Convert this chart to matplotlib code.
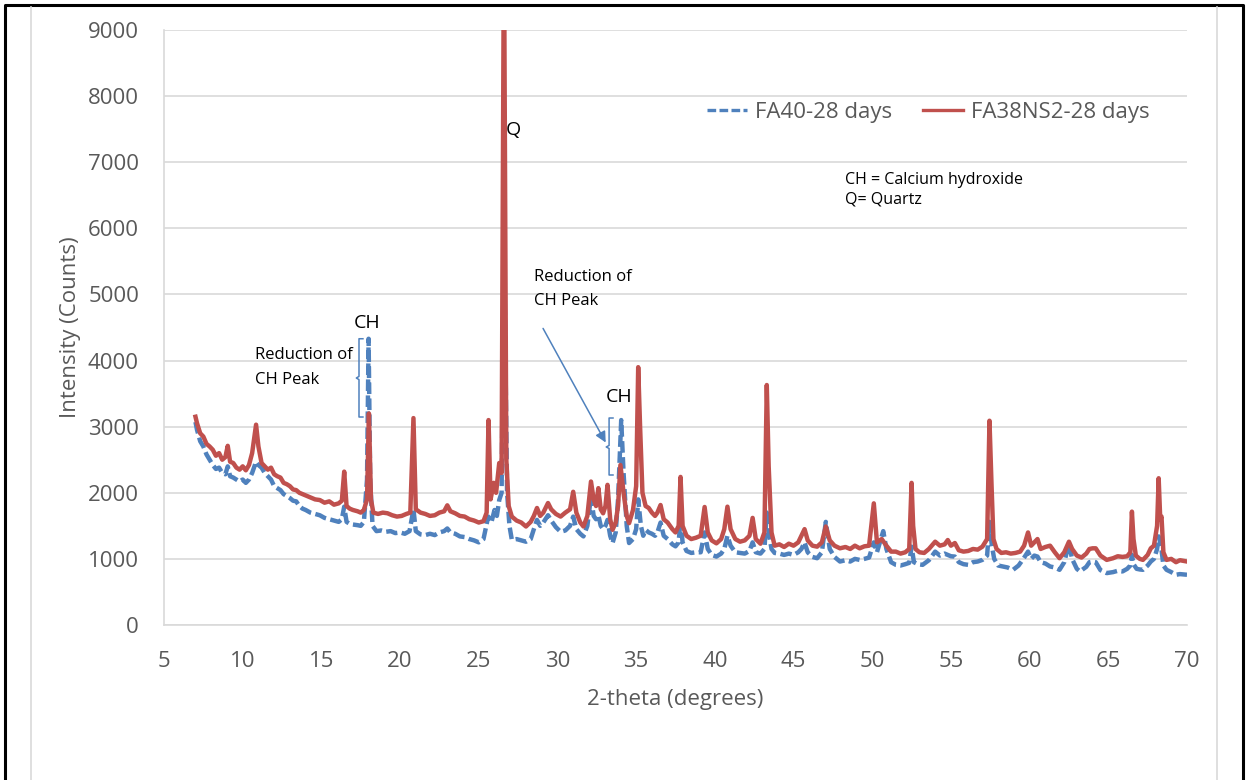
import numpy as np
import matplotlib
matplotlib.use("Agg")
import matplotlib.pyplot as plt
from matplotlib.lines import Line2D

plt.rcParams.update({
    "font.family": ["Open Sans", "DejaVu Sans"],
    "font.size": 16,
})

# FA40-28 days pattern (2-theta, counts)
fa40_x = [7.0, 7.1, 7.3, 7.5, 7.7, 7.9, 8.1, 8.3, 8.5, 8.7, 8.9, 9.05, 9.2, 9.4, 9.6, 9.8,
          10.0, 10.2, 10.4, 10.6, 10.85, 11.0, 11.2, 11.4, 11.6, 11.8, 12.0, 12.2, 12.4, 12.6,
          12.8, 13.0, 13.2, 13.4, 13.6, 13.8, 14.0, 14.3, 14.6, 14.9, 15.2, 15.5, 15.8, 16.1,
          16.3, 16.45, 16.6, 16.8, 17.0, 17.3, 17.5, 17.7, 17.9, 18.0, 18.1, 18.25, 18.5, 18.8,
          19.1, 19.4, 19.7, 20.0, 20.3, 20.6, 20.85, 21.0, 21.3, 21.6, 21.9, 22.2, 22.5, 22.8,
          23.0, 23.2, 23.5, 23.8, 24.1, 24.4, 24.7, 25.0, 25.3, 25.6, 25.8, 26.0, 26.15, 26.3,
          26.45, 26.6, 26.8, 26.95, 27.1, 27.4, 27.7, 28.0, 28.3, 28.5, 28.7, 28.9, 29.1, 29.4,
          29.6, 29.9, 30.2, 30.5, 30.8, 31.0, 31.2, 31.45, 31.65, 31.9, 32.13, 32.3, 32.45, 32.6,
          32.75, 32.9, 33.05, 33.18, 33.35, 33.5, 33.7, 33.85, 34.05, 34.2, 34.4, 34.55, 34.8,
          35.0, 35.13, 35.3, 35.45, 35.6, 35.8, 36.0, 36.2, 36.35, 36.55, 36.75, 37.0, 37.3,
          37.5, 37.7, 37.82, 37.95, 38.2, 38.5, 38.8, 39.1, 39.35, 39.55, 39.8, 40.1, 40.4,
          40.6, 40.8, 41.0, 41.3, 41.6, 41.9, 42.2, 42.4, 42.6, 42.9, 43.15, 43.3, 43.42, 43.6,
          43.8, 44.1, 44.4, 44.7, 45.0, 45.3, 45.5, 45.7, 45.9, 46.2, 46.5, 46.8, 47.05, 47.3,
          47.6, 47.95, 48.3, 48.6, 48.9, 49.2, 49.5, 49.8, 50.1, 50.3, 50.7, 50.9, 51.2, 51.5,
          51.8, 52.1, 52.35, 52.5, 52.65, 52.9, 53.2, 53.6, 54.0, 54.3, 54.6, 54.8, 55.0, 55.25,
          55.5, 55.8, 56.1, 56.4, 56.7, 57.0, 57.3, 57.45, 57.6, 57.75, 58.0, 58.3, 58.6, 58.95,
          59.3, 59.6, 59.9, 60.1, 60.3, 60.5, 60.7, 61.0, 61.3, 61.6, 61.9, 62.2, 62.5, 62.7,
          63.0, 63.2, 63.6, 63.8, 64.0, 64.2, 64.5, 64.9, 65.3, 65.6, 65.9, 66.2, 66.4, 66.5,
          66.6, 66.8, 67.0, 67.2, 67.5, 67.7, 67.9, 68.1, 68.2, 68.35, 68.5, 68.7, 69.0, 69.3,
          69.55, 70.0]
fa40_y = [3070, 2950, 2780, 2700, 2580, 2500, 2420, 2360, 2380, 2300, 2280, 2400, 2250, 2230, 2200, 2170,
          2200, 2150, 2200, 2300, 2470, 2420, 2380, 2300, 2250, 2200, 2100, 2070, 2040, 1980,
          1950, 1920, 1880, 1870, 1800, 1760, 1740, 1700, 1680, 1660, 1620, 1600, 1580, 1560,
          1600, 1790, 1560, 1530, 1520, 1510, 1500, 1560, 2200, 4330, 2200, 1500, 1420, 1430,
          1410, 1420, 1390, 1400, 1380, 1420, 1750, 1420, 1370, 1360, 1380, 1360, 1400, 1420,
          1460, 1400, 1380, 1340, 1330, 1300, 1280, 1250, 1300, 1640, 1550, 1740, 1650, 1890,
          2000, 5900, 2000, 1500, 1290, 1300, 1280, 1260, 1300, 1450, 1590, 1500, 1550, 1660,
          1580, 1480, 1410, 1430, 1500, 1640, 1450, 1380, 1340, 1500, 1940, 1650, 1600, 1660,
          1500, 1450, 1500, 1590, 1350, 1240, 1400, 1900, 3100, 2300, 1500, 1240, 1300,
          1450, 1900, 1500, 1350, 1440, 1400, 1380, 1350, 1400, 1550, 1350, 1300, 1220,
          1190, 1250, 1600, 1250, 1120, 1090, 1100, 1100, 1400, 1150, 1060, 1035, 1080,
          1150, 1350, 1200, 1100, 1090, 1080, 1120, 1250, 1100, 1080, 1150, 1700, 1400, 1150,
          1090, 1080, 1060, 1080, 1060, 1100, 1150, 1250, 1100, 1030, 1010, 1100, 1560, 1150,
          1030, 960, 980, 960, 1000, 985, 1000, 1020, 1250, 1100, 1420, 1150, 950, 910,
          900, 920, 940, 1185, 950, 920, 910, 980, 1110, 1050, 1080, 1060, 1040, 1035,
          950, 920, 910, 950, 960, 985, 1050, 1560, 1200, 1000, 900, 885, 870, 835,
          900, 1000, 1110, 1000, 1050, 1035, 950, 930, 885, 870, 835, 950, 1230, 1000,
          850, 810, 880, 950, 960, 950, 830, 785, 800, 820, 810, 850, 900, 1060,
          920, 850, 840, 835, 900, 960, 1000, 1150, 1340, 1200, 900, 835, 800, 760,
          770, 760]

# FA38NS2-28 days pattern (2-theta, counts)
fa38_x = [7.0, 7.1, 7.3, 7.5, 7.7, 7.9, 8.1, 8.3, 8.5, 8.7, 8.9, 9.05, 9.2, 9.4, 9.6, 9.8,
          10.0, 10.2, 10.4, 10.6, 10.85, 11.0, 11.2, 11.4, 11.6, 11.8, 12.0, 12.2, 12.4, 12.6,
          12.8, 13.0, 13.2, 13.4, 13.6, 13.8, 14.0, 14.3, 14.6, 14.9, 15.2, 15.5, 15.8, 16.1,
          16.3, 16.45, 16.6, 16.8, 17.0, 17.3, 17.5, 17.7, 17.9, 18.02, 18.15, 18.3, 18.6, 18.9,
          19.2, 19.5, 19.8, 20.1, 20.4, 20.65, 20.85, 21.0, 21.3, 21.6, 21.9, 22.2, 22.5, 22.8,
          23.0, 23.2, 23.5, 23.8, 24.1, 24.4, 24.7, 25.0, 25.3, 25.5, 25.62, 25.75, 25.95, 26.1,
          26.3, 26.45, 26.6, 26.75, 26.9, 27.1, 27.4, 27.7, 28.0, 28.3, 28.5, 28.7, 28.9, 29.1,
          29.4, 29.6, 29.9, 30.2, 30.5, 30.8, 31.0, 31.2, 31.45, 31.65, 31.9, 32.13, 32.3, 32.45,
          32.6, 32.75, 32.9, 33.05, 33.18, 33.35, 33.5, 33.7, 33.85, 34.0, 34.2, 34.4, 34.55,
          34.8, 35.0, 35.13, 35.25, 35.4, 35.6, 35.8, 36.0, 36.2, 36.35, 36.55, 36.75, 37.0,
          37.3, 37.5, 37.7, 37.82, 37.95, 38.2, 38.5, 38.8, 39.1, 39.35, 39.55, 39.8, 40.1,
          40.4, 40.6, 40.8, 41.0, 41.3, 41.6, 41.9, 42.2, 42.4, 42.6, 42.9, 43.15, 43.3, 43.42,
          43.6, 43.8, 44.1, 44.4, 44.7, 45.0, 45.3, 45.5, 45.7, 45.9, 46.2, 46.5, 46.8, 47.05,
          47.3, 47.6, 47.95, 48.3, 48.6, 48.9, 49.2, 49.5, 49.8, 50.1, 50.3, 50.6, 50.9, 51.2,
          51.5, 51.8, 52.1, 52.35, 52.5, 52.6, 52.75, 53.0, 53.3, 53.6, 54.0, 54.3, 54.6, 54.8,
          55.0, 55.25, 55.5, 55.8, 56.1, 56.4, 56.7, 57.0, 57.3, 57.45, 57.58, 57.7, 57.9, 58.2,
          58.5, 58.8, 59.1, 59.4, 59.65, 59.9, 60.1, 60.3, 60.5, 60.7, 61.0, 61.3, 61.6, 61.9,
          62.2, 62.5, 62.7, 63.0, 63.3, 63.6, 63.8, 64.0, 64.2, 64.5, 64.9, 65.3, 65.6, 65.9,
          66.2, 66.4, 66.5, 66.6, 66.75, 67.0, 67.2, 67.5, 67.7, 67.9, 68.1, 68.2, 68.3, 68.38,
          68.5, 68.7, 69.0, 69.3, 69.55, 70.0]
fa38_y = [3150, 3050, 2900, 2850, 2740, 2700, 2650, 2560, 2600, 2500, 2540, 2710, 2470, 2450, 2380, 2350,
          2400, 2340, 2420, 2600, 3030, 2700, 2450, 2400, 2350, 2380, 2280, 2250, 2230, 2150,
          2130, 2100, 2050, 2040, 2000, 1980, 1960, 1930, 1900, 1890, 1850, 1870, 1820, 1840,
          1880, 2320, 1800, 1760, 1740, 1720, 1700, 1740, 1900, 3200, 1900, 1700, 1680, 1700,
          1690, 1660, 1640, 1650, 1680, 1700, 3130, 1750, 1700, 1680, 1650, 1660, 1700, 1720,
          1810, 1720, 1690, 1650, 1640, 1600, 1580, 1550, 1570, 1700, 3100, 1900, 2150, 2000,
          2450, 2300, 10500, 2500, 1800, 1640, 1580, 1550, 1490, 1560, 1650, 1770, 1650, 1700,
          1845, 1750, 1680, 1640, 1700, 1750, 2015, 1700, 1550, 1490, 1650, 2170, 1900, 1800,
          2070, 1750, 1690, 1800, 2120, 1600, 1440, 1550, 1800, 2420, 2000, 1650, 1540,
          1740, 2100, 3900, 3000, 2000, 1800, 1770, 1700, 1650, 1700, 1815, 1600, 1550,
          1450, 1400, 1500, 2240, 1500, 1350, 1300, 1320, 1350, 1785, 1400, 1280, 1235,
          1300, 1450, 1790, 1450, 1300, 1260, 1280, 1350, 1620, 1300, 1230, 1400, 3630, 2400,
          1400, 1200, 1220, 1180, 1230, 1200, 1250, 1350, 1450, 1280, 1200, 1185, 1250, 1490,
          1280, 1200, 1160, 1180, 1150, 1200, 1160, 1190, 1200, 1840, 1250, 1300, 1200, 1110,
          1110, 1080, 1100, 1150, 2150, 1500, 1150, 1100, 1090, 1150, 1260, 1200, 1220, 1285,
          1200, 1240, 1130, 1110, 1120, 1150, 1140, 1185, 1300, 3090, 2120, 1300, 1150, 1090,
          1100, 1080, 1090, 1110, 1200, 1400, 1200, 1250, 1300, 1150, 1180, 1200, 1100, 1010,
          1100, 1260, 1150, 1050, 1020, 1080, 1150, 1160, 1160, 1050, 985, 1010, 1040, 1030,
          1040, 1100, 1715, 1300, 1050, 1000, 985, 1060, 1160, 1200, 1500, 2220, 1600, 1640,
          1100, 985, 1000, 950, 980, 960]

blue = "#4F81BD"
red = "#C0504D"
grey_txt = "#595959"
grid_c = "#D9D9D9"

fig = plt.figure(figsize=(12.46, 7.80), dpi=100)
W, H = 1246.0, 780.0

# outer frame + chart area border
fig.add_artist(Line2D([5 / W, 5 / W, 1243 / W, 1243 / W], [0, 1 - 5 / H, 1 - 5 / H, 0],
                      color="black", lw=2.2))
fig.add_artist(Line2D([31 / W, 31 / W], [0, 1 - 7 / H], color=grid_c, lw=1.2))
fig.add_artist(Line2D([1217 / W, 1217 / W], [0, 1 - 7 / H], color=grid_c, lw=1.2))

ax = fig.add_axes([164 / W, 1 - 625 / H, (1187 - 164) / W, (625 - 30) / H])

ax.plot(fa40_x, fa40_y, color=blue, lw=3.2, dashes=(2.6, 1.0), label="FA40-28 days", zorder=3)
ax.plot(fa38_x, fa38_y, color=red, lw=3.2, label="FA38NS2-28 days", zorder=4)

ax.set_xlim(5, 70)
ax.set_ylim(0, 9000)
ax.set_xticks(np.arange(5, 71, 5))
ax.set_yticks(np.arange(0, 9001, 1000))
ax.tick_params(length=0, labelsize=16, colors=grey_txt)
ax.tick_params(axis="y", pad=18)
ax.tick_params(axis="x", pad=19)
ax.grid(axis="y", color=grid_c, lw=1.2)
ax.set_axisbelow(True)
for s in ["top", "right"]:
    ax.spines[s].set_visible(False)
for s in ["left", "bottom"]:
    ax.spines[s].set_color(grid_c)
    ax.spines[s].set_linewidth(1.2)

ax.set_xlabel("2-theta (degrees)", fontsize=16, color=grey_txt, labelpad=12)
ax.set_ylabel("Intensity (Counts)", fontsize=16, color=grey_txt, labelpad=5)

leg = ax.legend(ncol=2, loc="center", bbox_to_anchor=(0.747, 0.862), frameon=False,
                fontsize=16, handlelength=1.8, handletextpad=0.35, columnspacing=1.4)
for t in leg.get_texts():
    t.set_color(grey_txt)
for h in leg.get_lines():
    h.set_linewidth(2.4)

# annotations
ax.text(26.73, 7488, "Q", fontsize=14, va="center", ha="left")
ax.text(17.9, 4568, "CH", fontsize=14, va="center", ha="center")
ax.text(33.9, 3449, "CH", fontsize=14, va="center", ha="center")
ax.text(10.78, 4084, "Reduction of", fontsize=12, va="center", ha="left")
ax.text(10.78, 3706, "CH Peak", fontsize=12, va="center", ha="left")
ax.text(28.5, 5264, "Reduction of", fontsize=12, va="center", ha="left")
ax.text(28.5, 4901, "CH Peak", fontsize=12, va="center", ha="left")
ax.text(48.27, 6731, "CH = Calcium hydroxide", fontsize=11.5, va="center", ha="left")
ax.text(48.27, 6429, "Q= Quartz", fontsize=11.5, va="center", ha="left")

# left braces marking the drop of the CH peaks
ax.plot([17.64, 17.39, 17.39, 17.22, 17.39, 17.39, 17.64],
        [4330, 4330, 3760, 3736, 3712, 3146, 3146], color=blue, lw=1.1)
ax.plot([33.53, 33.28, 33.28, 33.1, 33.28, 33.28, 33.53],
        [3131, 3131, 2716, 2693, 2670, 2269, 2269], color=blue, lw=1.1)
ax.annotate("", xy=(33.15, 2723), xytext=(29.0, 4523),
            arrowprops=dict(arrowstyle="-|>", color=blue, lw=1.1, mutation_scale=16))

fig.savefig("out.png", dpi=100)
